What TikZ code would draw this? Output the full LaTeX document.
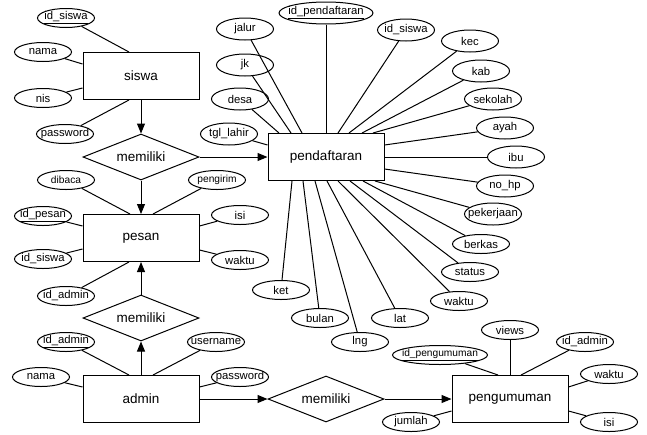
\documentclass[tikz,border=0pt]{standalone}
\usepackage{fontspec}
\setmainfont{Liberation Sans}
\usetikzlibrary{shapes.geometric,arrows.meta}

\tikzset{
    entity/.style={draw, line width=1pt, minimum width=116pt, minimum height=47pt, inner sep=0pt, font=\fontsize{13.5pt}{15pt}\selectfont},
    rel/.style={draw, diamond, aspect=2.5, line width=1pt, minimum width=116pt, minimum height=46pt, inner sep=0pt, font=\fontsize{13.5pt}{15pt}\selectfont},
    attr/.style={draw, ellipse, line width=1pt, minimum width=57pt, minimum height=19pt, inner xsep=-6pt, inner ysep=0pt, font=\fontsize{11.3pt}{13pt}\selectfont},
    tall/.style={minimum height=22pt},
    small/.style={font=\fontsize{10.2pt}{12pt}\selectfont},
    arr/.style={line width=1pt, -{Triangle[length=10pt,width=8pt]}}
}

\begin{document}
\begin{tikzpicture}[x=1pt, y=-1pt, line width=1pt]
        \useasboundingbox (0,0) rectangle (647,434);

        % entitas
        \node (siswa) [entity] at (141,76) {siswa};
        \node (pesan) [entity] at (141,238) {pesan};
        \node (admin) [entity] at (141,399) {admin};
        \node (pendaftaran) [entity] at (326,157) {pendaftaran};
        \node (pengumuman) [entity] at (510,399) {pengumuman};

        % relasi
        \node (memiliki1) [rel] at (141,157) {memiliki};
        \node (memiliki2) [rel] at (141,318) {memiliki};
        \node (memiliki3) [rel] at (326,399) {memiliki};

        % atribut siswa
        \node (idsiswa) [attr] at (66,18) {\underline{id\_siswa}};
        \node (namasiswa) [attr] at (43,52) {nama};
        \node (nis) [attr] at (43,98) {nis};
        \node (passwordsiswa) [attr] at (65,134) {password};

        % atribut pesan
        \node (dibaca) [attr, small] at (66,180) {dibaca};
        \node (pengirim) [attr, small] at (217,180) {pengirim};
        \node (idpesan) [attr] at (43,216) {\underline{id\_pesan}};
        \node (idsiswapesan) [attr] at (43,259) {id\_siswa};
        \node (isipesan) [attr] at (240,215) {isi};
        \node (waktupesan) [attr] at (240,260) {waktu};
        \node (idadminpesan) [attr] at (66,296) {id\_admin};

        % atribut admin
        \node (idadmin) [attr] at (66,342) {\underline{id\_admin}};
        \node (username) [attr] at (216,342) {username};
        \node (namaadmin) [attr] at (41,377) {nama};
        \node (passwordadmin) [attr] at (240,377) {password};

        % atribut pendaftaran
        \node (idpendaftaran) [attr, tall, minimum width=94pt] at (326,13) {\underline{id\_pendaftaran}};
        \node (jalur) [attr, tall] at (245,29) {jalur};
        \node (jk) [attr, tall] at (245,65) {jk};
        \node (desa) [attr, tall] at (240,99) {desa};
        \node (tgllahir) [attr, tall] at (229,134) {tgl\_lahir};
        \node (idsiswapd) [attr, tall] at (406,30) {id\_siswa};
        \node (kec) [attr, tall] at (470,41) {kec};
        \node (kab) [attr, tall] at (481,71) {kab};
        \node (sekolah) [attr, tall] at (493,99) {sekolah};
        \node (ayah) [attr, tall] at (505,128) {ayah};
        \node (ibu) [attr, tall] at (516,157) {ibu};
        \node (nohp) [attr, tall] at (505,186) {no\_hp};
        \node (pekerjaan) [attr, tall] at (493,214) {pekerjaan};
        \node (berkas) [attr] at (481,244) {berkas};
        \node (status) [attr] at (470,272) {status};
        \node (waktupd) [attr] at (459,301) {waktu};
        \node (lat) [attr] at (400,318) {lat};
        \node (ket) [attr] at (281,290) {ket};
        \node (bulan) [attr] at (320,318) {bulan};
        \node (lng) [attr] at (360,342) {lng};

        % atribut pengumuman
        \node (idpengumuman) [attr, small, minimum width=95pt] at (440,355) {\underline{id\_pengumuman}};
        \node (views) [attr] at (510,330) {views};
        \node (idadminpeng) [attr] at (585,342) {id\_admin};
        \node (waktupeng) [attr] at (609,374) {waktu};
        \node (isipeng) [attr] at (609,422) {isi};
        \node (jumlah) [attr] at (411,422) {jumlah};

        % relasi
        \draw [arr] (siswa.south) -- (memiliki1.north);
        \draw [arr] (memiliki1.south) -- (pesan.north);
        \draw [arr] (memiliki1.east) -- (pendaftaran.west);
        \draw [arr] (admin.north) -- (memiliki2.south);
        \draw [arr] (memiliki2.north) -- (pesan.south);
        \draw [arr] (admin.east) -- (memiliki3.west);
        \draw [arr] (memiliki3.east) -- (pengumuman.west);

        % garis atribut
        \draw (idsiswa) -- ([xshift=-12pt]siswa.north);
        \draw (namasiswa) -- ([yshift=12pt]siswa.west);
        \draw (nis) -- ([yshift=-12pt]siswa.west);
        \draw (passwordsiswa) -- ([xshift=-12pt]siswa.south);

        \draw (dibaca) -- ([xshift=-11pt]pesan.north);
        \draw (pengirim) -- ([xshift=12pt]pesan.north);
        \draw (idpesan) -- ([yshift=12pt]pesan.west);
        \draw (idsiswapesan) -- ([yshift=-11pt]pesan.west);
        \draw (isipesan) -- ([yshift=12pt]pesan.east);
        \draw (waktupesan) -- ([yshift=-12pt]pesan.east);
        \draw (idadminpesan) -- ([xshift=-12pt]pesan.south);

        \draw (idadmin) -- ([xshift=-12pt]admin.north);
        \draw (username) -- ([xshift=12pt]admin.north);
        \draw (namaadmin) -- ([yshift=12pt]admin.west);
        \draw (passwordadmin) -- ([yshift=12pt]admin.east);

        \draw (desa) -- ([xshift=-47pt]pendaftaran.north);
        \draw (jk) -- ([xshift=-35pt]pendaftaran.north);
        \draw (jalur) -- ([xshift=-24pt]pendaftaran.north);
        \draw (idpendaftaran) -- (pendaftaran.north);
        \draw (idsiswapd) -- ([xshift=12pt]pendaftaran.north);
        \draw (kec) -- ([xshift=23pt]pendaftaran.north);
        \draw (kab) -- ([xshift=36pt]pendaftaran.north);
        \draw (sekolah) -- ([xshift=47pt]pendaftaran.north);
        \draw (tgllahir) -- ([yshift=12pt]pendaftaran.west);
        \draw (ayah) -- ([yshift=12pt]pendaftaran.east);
        \draw (ibu) -- (pendaftaran.east);
        \draw (nohp) -- ([yshift=-12pt]pendaftaran.east);
        \draw (ket) -- ([xshift=-34pt]pendaftaran.south);
        \draw (bulan) -- ([xshift=-23pt]pendaftaran.south);
        \draw (lng) -- ([xshift=-11pt]pendaftaran.south);
        \draw (lat) -- ([xshift=1pt]pendaftaran.south);
        \draw (waktupd) -- ([xshift=12pt]pendaftaran.south);
        \draw (status) -- ([xshift=24pt]pendaftaran.south);
        \draw (berkas) -- ([xshift=37pt]pendaftaran.south);
        \draw (pekerjaan) -- ([xshift=49pt]pendaftaran.south);

        \draw (idpengumuman) -- ([xshift=-12pt]pengumuman.north);
        \draw (views) -- (pengumuman.north);
        \draw (idadminpeng) -- ([xshift=11pt]pengumuman.north);
        \draw (waktupeng) -- ([yshift=12pt]pengumuman.east);
        \draw (isipeng) -- ([yshift=-12pt]pengumuman.east);
        \draw (jumlah) -- ([yshift=-12pt]pengumuman.west);
\end{tikzpicture}
\end{document}
